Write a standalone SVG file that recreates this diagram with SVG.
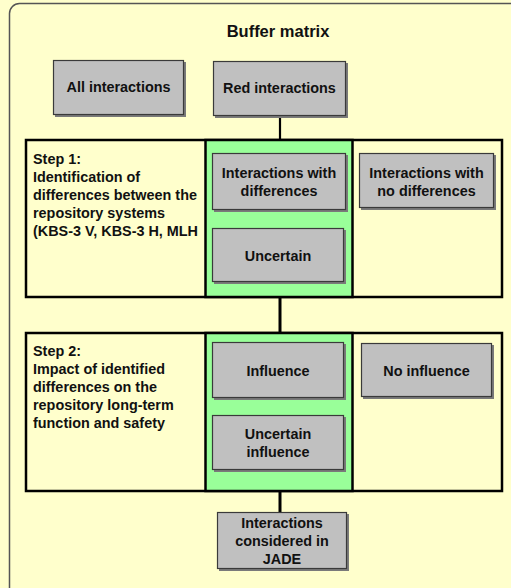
<svg xmlns="http://www.w3.org/2000/svg" width="511" height="588" viewBox="0 0 511 588">
<style>
text{font-family:"Liberation Sans",Arial,sans-serif;font-weight:bold;fill:#111;}
.t{font-size:14.4px;text-anchor:middle;}
.s{font-size:14.4px;}
.title{font-size:16.5px;text-anchor:middle;}
.box{fill:#C0C0C0;stroke:#3a3a3a;stroke-width:1.2;}
.sh{fill:#7a7a7a;}
.step{fill:#FFFFCC;stroke:#000;stroke-width:2.5;}
.green{fill:#99FF99;stroke:#000;stroke-width:2.5;}
.conn{stroke:#000;fill:none;}
</style>
<rect width="511" height="588" fill="#FFFFCC"/>
<rect x="9.5" y="3.5" width="520" height="600" rx="10" fill="#FFFFCC" stroke="#555" stroke-width="1.5"/>
<text class="title" x="278" y="37">Buffer matrix</text>

<g id="connectors">
<line class="conn" x1="280" y1="116" x2="280" y2="140" stroke-width="2.2"/>
<line class="conn" x1="280" y1="297" x2="280" y2="333" stroke-width="3"/>
<line class="conn" x1="280" y1="491" x2="280" y2="512" stroke-width="3"/>
</g>

<g id="all-interactions">
<rect class="sh" x="55" y="62" width="131" height="55"/>
<rect class="box" x="53.5" y="60.5" width="130" height="54"/>
<text class="t" x="118.5" y="92">All interactions</text>
</g>
<g id="red-interactions">
<rect class="sh" x="215" y="63" width="133" height="55"/>
<rect class="box" x="213.5" y="61.5" width="132" height="54"/>
<text class="t" x="279.5" y="93">Red interactions</text>
</g>

<g id="step1">
<rect class="step" x="26" y="140" width="476" height="157"/>
<rect class="green" x="205.5" y="140" width="147" height="157"/>
<text class="s" x="33" y="164">Step 1:</text>
<text class="s" x="33" y="182">Identification of</text>
<text class="s" x="33" y="200">differences between the</text>
<text class="s" x="33" y="218">repository systems</text>
<text class="s" x="33" y="236">(KBS-3 V, KBS-3 H, MLH</text>
</g>
<g id="with-differences">
<rect class="sh" x="214" y="155" width="134" height="57"/>
<rect class="box" x="212.5" y="153.5" width="133" height="56"/>
<text class="t" x="279" y="178">Interactions with</text>
<text class="t" x="279" y="196">differences</text>
</g>
<g id="uncertain">
<rect class="sh" x="214" y="230" width="132" height="54"/>
<rect class="box" x="212.5" y="228.5" width="131" height="53"/>
<text class="t" x="278" y="261">Uncertain</text>
</g>
<g id="no-differences">
<rect class="sh" x="361" y="155" width="135" height="55"/>
<rect class="box" x="359.5" y="153.5" width="134" height="54"/>
<text class="t" x="426.5" y="178">Interactions with</text>
<text class="t" x="426.5" y="196">no differences</text>
</g>

<g id="step2">
<rect class="step" x="26" y="333" width="476" height="158"/>
<rect class="green" x="205.5" y="333" width="147" height="158"/>
<text class="s" x="33" y="356">Step 2:</text>
<text class="s" x="33" y="374">Impact of identified</text>
<text class="s" x="33" y="392">differences on the</text>
<text class="s" x="33" y="410">repository long-term</text>
<text class="s" x="33" y="428">function and safety</text>
</g>
<g id="influence">
<rect class="sh" x="214" y="344" width="132" height="56"/>
<rect class="box" x="212.5" y="342.5" width="131" height="55"/>
<text class="t" x="278" y="376">Influence</text>
</g>
<g id="uncertain-influence">
<rect class="sh" x="214" y="417" width="132" height="55"/>
<rect class="box" x="212.5" y="415.5" width="131" height="54"/>
<text class="t" x="278" y="439">Uncertain</text>
<text class="t" x="278" y="457">influence</text>
</g>
<g id="no-influence">
<rect class="sh" x="363" y="345" width="131" height="54"/>
<rect class="box" x="361.5" y="343.5" width="130" height="53"/>
<text class="t" x="426.5" y="376">No influence</text>
</g>

<g id="jade">
<rect class="sh" x="219" y="514" width="130" height="57"/>
<rect class="box" x="217.5" y="512.5" width="129" height="56"/>
<text class="t" x="282" y="528">Interactions</text>
<text class="t" x="282" y="546">considered in</text>
<text class="t" x="282" y="564">JADE</text>
</g>
</svg>
